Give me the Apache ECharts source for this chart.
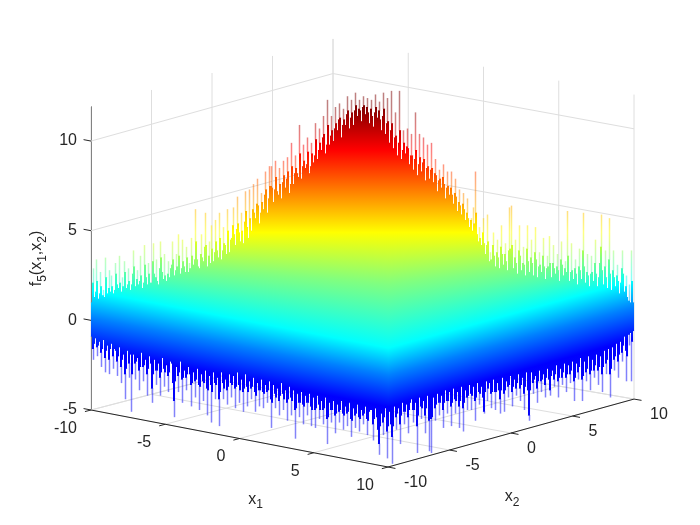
<!DOCTYPE html>
<html>
<head>
<meta charset="utf-8">
<style>html,body{margin:0;padding:0;background:#fff}#c{width:700px;height:525px}</style>
<script src="https://cdn.jsdelivr.net/npm/echarts@6/dist/echarts.min.js"></script>
</head>
<body>
<div id="c"></div>
<script>
// Tick labels of the three axes
const x1Ticks = [-10, -5, 0, 5, 10];
const x2Ticks = [-10, -5, 0, 5, 10];
const zTicks = [-5, 0, 5, 10];
const zRange = [-5, 11.9];

// Upper silhouette of the spiky surface, read column by column from left to right,
// in units of the vertical axis
const surfaceTop = [
1.0,2.1,2.9,1.3,1.6,3.4,2.2,1.2,1.5,2.7,1.9,1.4,1.7,1.3,3.5,2.4,1.5,1.8,2.8,1.6,
2.5,1.9,1.5,1.7,3.2,2.6,2.0,1.8,3.6,2.1,1.6,2.4,1.9,3.3,2.7,1.8,2.0,2.9,2.2,1.7,
2.0,2.6,3.9,3.0,1.9,2.3,2.8,2.0,2.2,3.6,2.5,1.8,2.1,4.2,3.1,2.4,2.0,3.2,2.6,2.1,
2.1,3.3,4.3,2.6,2.4,3.4,2.2,2.0,2.9,4.4,3.5,2.7,2.3,3.7,2.5,2.2,2.6,3.3,2.4,2.9,
3.1,4.4,3.4,2.5,2.8,3.7,3.0,4.8,3.6,2.6,2.9,4.5,3.3,3.0,2.7,4.1,3.5,2.7,3.2,2.9,
4.6,3.6,3.1,3.4,6.2,4.4,3.4,3.0,2.9,3.7,4.8,3.5,3.3,4.1,6.0,4.2,3.0,3.6,4.4,3.2,
5.3,4.0,3.3,3.8,5.6,4.4,3.9,3.5,6.0,4.6,3.4,3.9,5.2,4.3,4.2,3.7,6.2,5.0,3.8,4.5,
4.6,5.3,6.3,4.8,4.2,5.1,6.9,5.4,4.9,4.4,6.0,5.0,4.3,5.5,7.2,6.1,5.2,4.6,7.3,5.7,
5.0,6.2,7.6,6.0,5.7,6.5,7.9,6.4,5.4,6.0,7.1,6.6,6.2,7.0,8.3,7.3,6.0,6.8,8.6,7.5,
8.6,7.4,6.6,7.3,8.9,8.0,7.2,7.0,8.5,7.6,6.8,7.7,8.9,8.1,7.4,7.9,9.1,8.3,7.1,7.6,
9.9,8.6,7.6,8.2,9.2,8.5,8.2,8.0,10.9,9.3,7.9,8.6,9.8,8.9,8.5,8.7,10.2,9.4,8.2,8.6,
9.9,9.3,8.8,9.2,11.0,10.1,9.0,9.5,10.7,9.9,9.5,10.2,11.4,10.4,9.3,9.8,12.3,10.9,9.8,10.3,
11.4,10.6,10.0,10.7,11.9,11.0,10.6,11.2,12.1,11.3,10.2,10.9,11.8,11.2,10.9,11.5,12.5,11.7,10.7,11.3,
12.3,11.6,10.9,11.7,12.7,12.0,11.4,11.8,12.3,11.7,11.1,11.9,12.5,12.0,11.5,11.9,12.4,11.6,11.0,11.8,
12.3,11.4,10.8,11.6,12.6,11.9,11.3,11.7,12.2,11.2,10.6,11.4,12.7,11.8,10.4,11.0,12.4,11.1,9.9,10.6,
12.8,11.0,9.6,10.2,11.6,10.3,9.2,9.9,12.8,10.6,9.0,9.5,10.6,9.9,9.3,9.7,10.7,9.6,8.7,9.2,
10.4,9.2,8.4,9.0,11.6,9.5,8.1,8.7,10.4,9.1,8.3,8.8,10.2,9.0,7.8,8.5,9.8,8.6,7.9,8.4,
9.9,8.5,7.7,8.2,9.0,8.1,7.2,7.8,8.4,7.9,7.4,8.0,8.7,7.6,6.8,7.4,8.3,7.5,7.0,7.4,
8.3,7.0,6.5,7.1,7.9,6.9,6.1,6.6,7.3,6.4,5.9,6.5,7.1,6.2,5.6,6.0,6.8,5.7,5.2,5.6,
5.7,5.0,6.3,5.4,8.3,6.0,4.8,4.4,5.2,4.6,4.2,4.9,5.7,4.3,3.7,4.2,5.9,4.4,3.3,3.8,
3.4,4.2,4.9,3.6,3.0,3.8,4.5,3.5,2.9,4.1,5.3,3.7,3.1,3.7,4.3,3.3,2.8,3.9,6.3,4.0,
6.4,4.2,2.9,3.5,4.5,3.2,2.6,3.9,5.3,3.6,2.8,3.2,4.1,3.1,2.5,4.0,5.3,3.3,2.7,3.5,
4.5,3.2,2.5,3.8,5.2,3.4,2.4,3.0,3.8,3.1,2.7,3.6,4.6,3.0,2.3,2.9,3.6,3.0,4.7,3.2,
2.4,3.2,4.2,2.9,2.6,3.0,3.7,2.8,2.2,3.4,4.4,3.1,2.5,2.9,3.3,2.7,6.1,3.6,2.2,2.7,
4.3,2.8,2.3,2.9,3.4,2.6,2.0,3.0,4.0,2.8,2.3,3.9,6.0,3.0,2.1,2.7,3.7,2.5,1.9,2.6,
3.6,2.7,2.2,3.2,4.5,2.6,1.9,2.4,3.2,4.1,5.9,2.8,2.0,3.0,3.9,2.4,1.8,3.4,5.7,2.6,
1.7,2.8,3.9,2.4,1.9,2.5,3.1,2.2,1.5,2.1,2.9,3.9,2.6,1.6,1.9,2.5,1.3,1.1,2.0,1.0,
3.9,2.2,1.0
];

// Lower silhouette of the surface, same columns
const surfaceBottom = [
-0.9,-1.6,-2.2,-1.3,-1.0,-1.5,-2.0,-1.4,-1.2,-1.8,-2.6,-1.6,-1.1,-2.1,-2.9,-1.7,-1.4,-2.2,-3.0,-1.6,
-1.3,-2.0,-2.7,-1.6,-1.7,-2.3,-3.1,-2.0,-1.5,-2.6,-3.5,-2.2,-1.9,-3.0,-4.4,-2.7,-1.7,-2.4,-3.2,-1.9,
-5.1,-3.0,-1.9,-2.4,-3.3,-2.3,-2.1,-2.8,-3.9,-2.6,-1.8,-2.6,-3.4,-2.5,-2.2,-3.0,-4.2,-2.7,-2.0,-2.4,
-3.8,-4.6,-3.0,-2.2,-2.8,-3.6,-2.8,-2.4,-3.2,-4.2,-2.9,-2.1,-2.7,-3.7,-2.9,-2.5,-3.1,-4.0,-2.9,-2.3,
-2.4,-3.5,-4.5,-5.4,-3.4,-2.6,-3.1,-4.0,-2.9,-2.3,-3.3,-4.6,-3.2,-2.8,-3.2,-3.9,-3.0,-2.6,-3.0,-3.6,
-4.8,-3.5,-2.9,-3.4,-4.3,-3.3,-2.7,-3.6,-5.0,-3.7,-3.0,-3.4,-4.5,-3.5,-2.8,-3.8,-5.3,-3.9,-3.1,-3.6,
-5.7,-4.0,-2.9,-3.5,-4.4,-3.6,-3.2,-4.4,-5.9,-4.0,-2.9,-3.5,-4.4,-3.8,-3.3,-3.9,-4.7,-3.7,-3.0,-3.5,
-4.3,-3.6,-3.1,-3.8,-4.9,-3.7,-2.9,-3.6,-4.6,-3.9,-3.3,-4.0,-5.1,-3.8,-3.0,-3.7,-4.8,-4.0,-3.4,-3.8,
-4.4,-3.7,-3.2,-4.0,-5.1,-4.2,-3.5,-3.9,-4.8,-3.9,-3.3,-4.0,-4.9,-4.1,-3.6,-4.0,-4.6,-3.9,-3.4,-4.4,
-6.0,-4.6,-3.6,-4.1,-4.9,-4.3,-3.8,-4.5,-5.3,-4.2,-3.5,-4.1,-5.0,-4.4,-3.9,-4.6,-5.6,-4.4,-3.7,-4.3,
-5.3,-4.5,-3.9,-5.0,-6.6,-4.9,-4.1,-4.6,-5.4,-4.6,-4.0,-4.7,-5.8,-4.8,-4.2,-4.6,-5.3,-4.6,-4.1,-4.8,
-5.9,-5.0,-4.3,-5.0,-6.0,-4.9,-4.2,-4.7,-5.5,-5.0,-4.5,-5.0,-5.8,-4.9,-4.3,-5.5,-6.9,-5.4,-4.6,-5.0,
-5.7,-5.0,-4.5,-5.3,-6.3,-5.2,-4.7,-5.1,-5.7,-5.0,-4.5,-5.2,-6.1,-5.3,-4.8,-5.2,-5.9,-5.1,-4.6,-5.5,
-6.5,-5.6,-4.9,-5.3,-6.0,-5.2,-4.7,-5.4,-6.2,-5.5,-5.0,-5.3,-5.8,-5.2,-4.8,-5.5,-6.4,-5.6,-5.1,-5.0,
-5.0,-5.8,-6.7,-5.5,-4.9,-5.4,-6.1,-6.9,-7.5,-5.9,-5.2,-5.7,-6.4,-5.4,-4.9,-6.2,-7.7,-5.9,-5.1,-5.8,
-6.5,-8.0,-5.9,-4.8,-5.4,-6.1,-5.2,-4.9,-5.8,-6.9,-5.3,-4.6,-5.1,-5.8,-5.1,-4.7,-5.4,-6.3,-5.0,-4.6,
-4.4,-5.0,-5.7,-5.0,-4.6,-5.9,-7.4,-5.3,-4.3,-4.8,-5.5,-4.9,-4.5,-5.3,-6.3,-4.9,-4.2,-5.6,-7.3,-5.5,
-7.4,-5.4,-4.3,-4.9,-5.6,-4.7,-4.1,-4.6,-5.3,-4.6,-4.2,-5.0,-6.0,-4.6,-3.9,-4.5,-5.2,-4.5,-4.0,-4.8,
-5.9,-4.6,-3.8,-4.4,-5.2,-4.5,-4.0,-4.8,-6.0,-4.5,-3.7,-4.9,-6.2,-4.6,-3.9,-4.3,-5.0,-4.2,-3.6,-4.1,
-5.0,-4.2,-3.7,-4.5,-5.6,-4.3,-3.5,-4.0,-4.7,-4.1,-3.7,-4.3,-5.1,-5.2,-4.0,-3.4,-4.5,-3.8,-3.5,-4.1,
-4.9,-4.0,-3.3,-4.0,-5.0,-4.0,-3.5,-3.9,-4.4,-5.2,-3.9,-3.2,-4.1,-5.1,-3.9,-3.4,-3.7,-4.3,-3.6,-3.1,
-4.0,-4.8,-3.7,-3.3,-3.8,-4.2,-3.5,-3.0,-3.8,-4.5,-3.6,-3.2,-4.1,-5.0,-3.7,-2.9,-3.9,-5.3,-5.6,-3.9,
-2.9,-3.5,-4.1,-3.3,-3.1,-3.8,-4.6,-3.4,-2.8,-3.4,-4.0,-3.3,-3.0,-3.6,-4.3,-3.2,-2.7,-3.3,-3.9,-4.2,
-3.1,-2.8,-3.3,-3.7,-3.0,-2.5,-3.4,-4.3,-3.2,-2.7,-3.2,-3.6,-2.9,-2.4,-3.2,-4.0,-3.0,-2.5,-3.0,-3.5,
-2.8,-2.3,-3.4,-4.5,-3.2,-2.4,-2.9,-3.3,-2.6,-2.1,-3.3,-4.5,-3.1,-2.3,-2.9,-3.4,-2.7,-2.0,-3.0,-3.9,
-2.8,-2.2,-2.8,-3.2,-2.5,-1.9,-2.8,-3.6,-2.6,-2.0,-3.0,-4.0,-2.6,-1.7,-2.4,-3.0,-2.2,-1.6,-3.0,-4.3,
-2.7,-1.5,-2.2,-2.8,-2.0,-1.3,-2.3,-3.2,-1.9,-1.2,-1.8,-2.3,-1.4,-0.9,-1.7,-3.4,-2.0,-0.8,-1.4,-0.7,
-3.4,-1.2,-0.6
];

const INK = '#262626', GRID = '#dedede', FONT = '"Liberation Sans", Arial, sans-serif';

// Oblique view: where the four floor corners land on the hidden column axis and on the z axis
const view = {
  left:  {u: 0,   z: -5,    s: 1},
  front: {u: 297, z: -8.18, s: 1},
  right: {u: 543, z: -4.39, s: 1.005},
  back:  {u: 242, z: -1.49, s: 1.017}
};
function project(x1, x2, z) {
  const a = (x1 + 10) / 20, b = (x2 + 10) / 20;
  const mix = k => (1 - a) * (1 - b) * view.left[k] + a * (1 - b) * view.front[k] + a * b * view.right[k] + (1 - a) * b * view.back[k];
  return [mix('u'), mix('z') + (z + 5) * mix('s')];
}
function frontEdgeZ(u) {
  const f = view.front, l = view.left, r = view.right;
  return u <= f.u ? l.z + (f.z - l.z) * u / f.u : f.z + (r.z - f.z) * (u - f.u) / (r.u - f.u);
}

// Segments of walls and floor
const gridSegs = [];
const zTop = zRange[1];
x2Ticks.forEach(v => { gridSegs.push([-10, v, -5, -10, v, zTop]); gridSegs.push([-10, v, -5, 10, v, -5]); });
x1Ticks.forEach(v => { gridSegs.push([v, 10, -5, v, 10, zTop]); gridSegs.push([v, -10, -5, v, 10, -5]); });
zTicks.forEach(v => { gridSegs.push([-10, -10, v, -10, 10, v]); gridSegs.push([-10, 10, v, 10, 10, v]); });

const axisSegs = [[-10, -10, -5, 10, -10, -5], [10, -10, -5, 10, 10, -5]];
x1Ticks.forEach(v => axisSegs.push([v, -10, -5, v, -10.5, -5]));
x2Ticks.forEach(v => axisSegs.push([10, v, -5, 10.5, v, -5]));
zTicks.forEach(v => axisSegs.push([-10, -10, v, -10.5, -10, v]));

const labels = [];
x1Ticks.forEach(v => labels.push({p: [v, -10, -5], t: String(v), dx: -14, dy: 18.5, align: 'right'}));
x2Ticks.forEach(v => labels.push({p: [10, v, -5], t: String(v), dx: 16, dy: 16, align: 'left'}));

const subStyle = {
  a: {fontSize: 16, fontFamily: FONT, fill: INK, color: INK},
  s: {fontSize: 12, fontFamily: FONT, fill: INK, color: INK, padding: [11, 0, 0, 0]}
};

function segItem(params, api, color, width) {
  const v = i => api.value(i);
  const a = api.coord(project(v(0), v(1), v(2)));
  const b = api.coord(project(v(3), v(4), v(5)));
  return {type: 'line', silent: true, shape: {x1: a[0], y1: a[1], x2: b[0], y2: b[1]}, style: {stroke: color, lineWidth: width}};
}

// Colour ramp of one column, as stops in screen position
function jetStops(api, u) {
  const toY = z => api.coord([0, z])[1];
  const yFront = toY(frontEdgeZ(u));
  const yYellow = toY(4.9);
  const yCyan = yFront - 119;
  const yGreen = yCyan - (yCyan - yYellow) * 0.55;
  return [
    [toY(12.8), '#7a0000'],
    [toY(11.9), '#800000'],
    [toY(9.5), '#ff0000'],
    [toY(7.2), '#ff8000'],
    [yYellow, '#ffff00'],
    [yGreen, '#80ff80'],
    [yCyan, '#00ffff'],
    [yFront - 92, '#0080ff'],
    [yFront - 72, '#0030ff'],
    [yFront - 60, '#0000ff'],
    [toY(-8.5), '#1010e8']
  ];
}
function rampFill(stops) {
  const y0 = stops[0][0], y1 = stops[stops.length - 1][0];
  return new echarts.graphic.LinearGradient(0, y0, 0, y1,
    stops.map(s => ({offset: (s[0] - y0) / (y1 - y0), color: s[1]})), true);
}

function columnItem(params, api) {
  const i = params.dataIndex;
  const top = surfaceTop[i], bottom = surfaceBottom[i];
  const n = surfaceTop.length;
  const tL = surfaceTop[Math.max(i - 1, 0)], tR = surfaceTop[Math.min(i + 1, n - 1)];
  const bL = surfaceBottom[Math.max(i - 1, 0)], bR = surfaceBottom[Math.min(i + 1, n - 1)];
  const bodyTop = Math.min(top, Math.max(tL, tR));
  const bodyBottom = Math.max(bottom, Math.min(bL, bR));
  const fill = rampFill(jetStops(api, i));
  const c = Math.round(api.coord([i, 0])[0]);
  const yT = api.coord([i, top])[1], yB = api.coord([i, bottom])[1];
  const bT = api.coord([i, bodyTop])[1], bB = api.coord([i, bodyBottom])[1];
  return {
    type: 'group', silent: true,
    children: [
      {type: 'rect', shape: {x: c - 0.25, y: yT, width: 1.5, height: bT - yT + 0.5}, style: {fill: fill, opacity: 0.5}},
      {type: 'rect', shape: {x: c - 0.25, y: bB - 0.5, width: 1.5, height: yB - bB + 0.5}, style: {fill: fill, opacity: 0.5}},
      {type: 'rect', shape: {x: c, y: bT, width: 1.02, height: bB - bT}, style: {fill: fill}}
    ]
  };
}

const option = {
  animation: false,
  backgroundColor: '#fff',
  grid: {left: 91, width: 542, top: 107, bottom: 115},
  xAxis: {type: 'value', min: 0, max: surfaceTop.length - 1, show: false},
  yAxis: {
    type: 'value', min: zRange[0], max: zRange[1], position: 'left',
    axisLine: {show: true, onZero: false, lineStyle: {color: INK, width: 1}},
    axisTick: {show: false},
    splitLine: {show: false},
    axisLabel: {customValues: zTicks, margin: 14, padding: [4, 0, 0, 0], color: INK, fontSize: 16, fontFamily: FONT}
  },
  series: [
    {
      type: 'custom', z: 1, silent: true, clip: false,
      data: gridSegs,
      renderItem: (p, api) => segItem(p, api, GRID, 1)
    },
    {
      type: 'custom', z: 2, silent: true, clip: false,
      data: surfaceTop.map((t, i) => [i, t, surfaceBottom[i]]),
      renderItem: columnItem
    },
    {
      type: 'custom', z: 3, silent: true, clip: false,
      data: axisSegs,
      renderItem: (p, api) => segItem(p, api, INK, 1)
    },
    {
      type: 'custom', z: 4, silent: true, clip: false,
      data: labels.map((l, i) => [i]),
      renderItem: (params, api) => {
        const l = labels[params.dataIndex];
        const c = api.coord(project(l.p[0], l.p[1], l.p[2]));
        return {type: 'text', silent: true, x: c[0] + l.dx, y: c[1] + l.dy,
          style: {text: l.t, align: l.align, verticalAlign: 'middle', fontSize: 16, fontFamily: FONT, fill: INK}};
      }
    },
    {
      type: 'custom', z: 4, silent: true, clip: false,
      data: [[0], [1], [2]],
      renderItem: (params, api) => {
        const i = params.dataIndex;
        let c, o = {};
        if (i === 0) { c = api.coord(project(0, -10, -5)); c = [c[0] + 16, c[1] + 61]; o.text = '{a|x}{s|1}'; }
        if (i === 1) { c = api.coord(project(10, 0, -5)); c = [c[0] + 1, c[1] + 64]; o.text = '{a|x}{s|2}'; }
        if (i === 2) { c = api.coord([0, (zRange[0] + zRange[1]) / 2]); c = [c[0] - 54, c[1]]; o.text = '{a|f}{s|5}{a|(x}{s|1}{a|,x}{s|2}{a|)}'; }
        return {type: 'text', silent: true, x: c[0], y: c[1], rotation: i === 2 ? Math.PI / 2 : 0,
          style: {text: o.text, rich: subStyle, align: 'center', verticalAlign: 'middle', fontFamily: FONT}};
      }
    }
  ]
};
const chart = echarts.init(document.getElementById('c'), null, {renderer: 'canvas'});
chart.setOption(option);
</script>
</body>
</html>
